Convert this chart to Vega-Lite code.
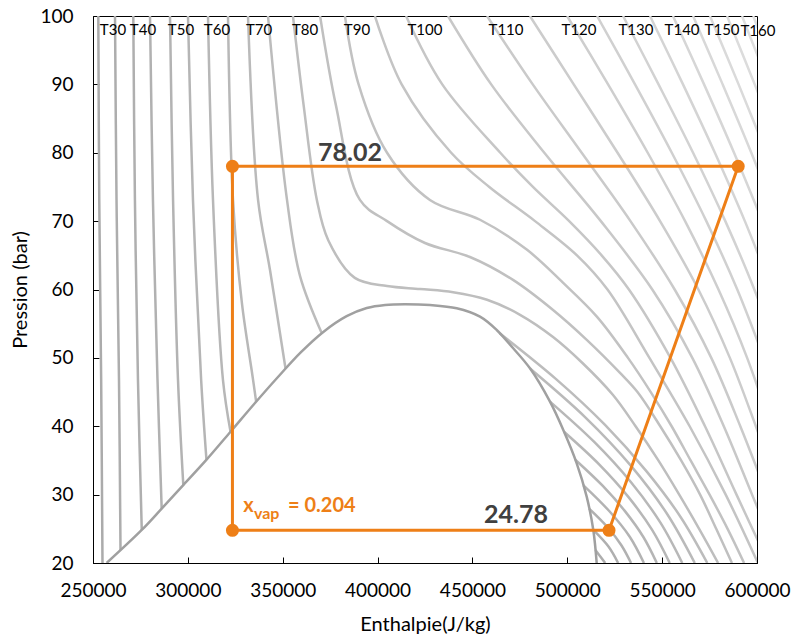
{
"$schema": "https://vega.github.io/schema/vega-lite/v6.json",
"width": 664, "height": 547,
"autosize": {"type": "none"},
"padding": {"left": 93, "top": 16, "right": 36, "bottom": 74},
"config": {
  "view": {"stroke": "#000", "strokeWidth": 1},
  "font": "Lato",
  "axis": {"grid": false, "domainColor": "#000", "tickColor": "#000", "labelColor": "#000", "titleColor": "#000", "labelFont": "Lato", "titleFont": "Lato", "labelFontSize": 19, "titleFontSize": 20, "titleFontWeight": "normal"}
},
"datasets": {
  "iso": [
    {"T":30,"s":"30L","h":252800,"P":100},{"T":30,"s":"30L","h":253300,"P":73.1},{"T":30,"s":"30L","h":254300,"P":46.8},{"T":30,"s":"30L","h":255000,"P":20},
    {"T":35,"s":"35L","h":261600,"P":100},{"T":35,"s":"35L","h":262400,"P":73.1},{"T":35,"s":"35L","h":263700,"P":46.8},{"T":35,"s":"35L","h":264500,"P":21.9},
    {"T":40,"s":"40L","h":271240,"P":100},{"T":40,"s":"40L","h":272100,"P":73.1},{"T":40,"s":"40L","h":273700,"P":46.8},{"T":40,"s":"40L","h":275700,"P":24.83},
    {"T":45,"s":"45L","h":280050,"P":100},{"T":45,"s":"45L","h":281600,"P":73.1},{"T":45,"s":"45L","h":284000,"P":46.8},{"T":45,"s":"45L","h":286200,"P":27.95},
    {"T":50,"s":"50L","h":290590,"P":100},{"T":50,"s":"50L","h":292200,"P":73.1},{"T":50,"s":"50L","h":294800,"P":46.8},{"T":50,"s":"50L","h":297600,"P":31.4},
    {"T":55,"s":"55L","h":300070,"P":100},{"T":55,"s":"55L","h":302700,"P":73.1},{"T":55,"s":"55L","h":307000,"P":46.8},{"T":55,"s":"55L","h":309800,"P":35.1},
    {"T":60,"s":"60L","h":310620,"P":100},{"T":60,"s":"60L","h":313250,"P":73.1},{"T":60,"s":"60L","h":318500,"P":46.8},{"T":60,"s":"60L","h":322500,"P":39.2},
    {"T":65,"s":"65L","h":321160,"P":100},{"T":65,"s":"65L","h":323800,"P":73.1},{"T":65,"s":"65L","h":328500,"P":58},{"T":65,"s":"65L","h":334000,"P":47.5},{"T":65,"s":"65L","h":336000,"P":43.6},
    {"T":70,"s":"70L","h":331700,"P":100},{"T":70,"s":"70L","h":337000,"P":73.1},{"T":70,"s":"70L","h":343300,"P":62.85},{"T":70,"s":"70L","h":351500,"P":48.4},
    {"T":75,"s":"75L","h":342240,"P":100},{"T":75,"s":"75L","h":352260,"P":73.1},{"T":75,"s":"75L","h":359110,"P":62},{"T":75,"s":"75L","h":370600,"P":53.6},
    {"T":35,"s":"35V","h":514800,"P":21.9},{"T":35,"s":"35V","h":520000,"P":20},
    {"T":40,"s":"40V","h":513710,"P":24.83},{"T":40,"s":"40V","h":521700,"P":22.4},{"T":40,"s":"40V","h":526800,"P":20},
    {"T":45,"s":"45V","h":511470,"P":27.96},{"T":45,"s":"45V","h":521000,"P":25.3},{"T":45,"s":"45V","h":528500,"P":22.6},{"T":45,"s":"45V","h":533600,"P":20},
    {"T":50,"s":"50V","h":508400,"P":31.4},{"T":50,"s":"50V","h":522100,"P":27.6},{"T":50,"s":"50V","h":533000,"P":23.8},{"T":50,"s":"50V","h":540400,"P":20},
    {"T":55,"s":"55V","h":504200,"P":35.1},{"T":55,"s":"55V","h":518600,"P":31.3},{"T":55,"s":"55V","h":530500,"P":27.55},{"T":55,"s":"55V","h":540100,"P":23.8},{"T":55,"s":"55V","h":547200,"P":20},
    {"T":60,"s":"60V","h":498260,"P":39.2},{"T":60,"s":"60V","h":516900,"P":34.4},{"T":60,"s":"60V","h":532400,"P":29.6},{"T":60,"s":"60V","h":544800,"P":24.8},{"T":60,"s":"60V","h":554000,"P":20},
    {"T":65,"s":"65V","h":490870,"P":43.6},{"T":65,"s":"65V","h":514200,"P":37.7},{"T":65,"s":"65V","h":533600,"P":31.8},{"T":65,"s":"65V","h":549100,"P":25.9},{"T":65,"s":"65V","h":560600,"P":20},
    {"T":70,"s":"70V","h":480500,"P":48.4},{"T":70,"s":"70V","h":509500,"P":41.3},{"T":70,"s":"70V","h":533600,"P":34.2},{"T":70,"s":"70V","h":552800,"P":27.1},{"T":70,"s":"70V","h":567200,"P":20},
    {"T":75,"s":"75V","h":464350,"P":53.6},{"T":75,"s":"75V","h":494100,"P":46.9},{"T":75,"s":"75V","h":519900,"P":40.2},{"T":75,"s":"75V","h":541800,"P":33.4},{"T":75,"s":"75V","h":559800,"P":26.7},{"T":75,"s":"75V","h":573800,"P":20},
    {"T":80,"s":"80S","h":355400,"P":100},{"T":80,"s":"80S","h":361000,"P":87},{"T":80,"s":"80S","h":368000,"P":73.1},{"T":80,"s":"80S","h":374000,"P":67.2},{"T":80,"s":"80S","h":388000,"P":61.7},{"T":80,"s":"80S","h":405000,"P":60.5},{"T":80,"s":"80S","h":422400,"P":60.07},{"T":80,"s":"80S","h":439800,"P":59.6},{"T":80,"s":"80S","h":457700,"P":58.5},{"T":80,"s":"80S","h":475100,"P":56.3},{"T":80,"s":"80S","h":492500,"P":53.05},{"T":80,"s":"80S","h":508000,"P":49.25},{"T":80,"s":"80S","h":524000,"P":44.6},{"T":80,"s":"80S","h":536000,"P":40},{"T":80,"s":"80S","h":548000,"P":35},{"T":80,"s":"80S","h":559000,"P":30},{"T":80,"s":"80S","h":569500,"P":25},{"T":80,"s":"80S","h":579500,"P":20},
    {"T":85,"s":"85S","h":369700,"P":100},{"T":85,"s":"85S","h":378000,"P":87},{"T":85,"s":"85S","h":390700,"P":73.1},{"T":85,"s":"85S","h":405000,"P":70},{"T":85,"s":"85S","h":425000,"P":66.8},{"T":85,"s":"85S","h":448700,"P":64.75},{"T":85,"s":"85S","h":471400,"P":61.4},{"T":85,"s":"85S","h":492500,"P":57},{"T":85,"s":"85S","h":510400,"P":52.6},{"T":85,"s":"85S","h":527800,"P":47.8},{"T":85,"s":"85S","h":537000,"P":45},{"T":85,"s":"85S","h":549000,"P":40},{"T":85,"s":"85S","h":560000,"P":35},{"T":85,"s":"85S","h":570000,"P":30},{"T":85,"s":"85S","h":578500,"P":25},{"T":85,"s":"85S","h":586800,"P":20},
    {"T":90,"s":"90S","h":382800,"P":100},{"T":90,"s":"90S","h":390000,"P":90},{"T":90,"s":"90S","h":405000,"P":80},{"T":90,"s":"90S","h":427600,"P":73.1},{"T":90,"s":"90S","h":454000,"P":70.2},{"T":90,"s":"90S","h":478800,"P":65.8},{"T":90,"s":"90S","h":497700,"P":61},{"T":90,"s":"90S","h":515700,"P":56},{"T":90,"s":"90S","h":532000,"P":50},{"T":90,"s":"90S","h":544000,"P":45},{"T":90,"s":"90S","h":555000,"P":40},{"T":90,"s":"90S","h":565000,"P":35},{"T":90,"s":"90S","h":575000,"P":30},{"T":90,"s":"90S","h":584500,"P":25},{"T":90,"s":"90S","h":593200,"P":20},
    {"T":95,"s":"95S","h":398600,"P":100},{"T":95,"s":"95S","h":412700,"P":90},{"T":95,"s":"95S","h":438800,"P":80},{"T":95,"s":"95S","h":458900,"P":75},{"T":95,"s":"95S","h":483000,"P":70},{"T":95,"s":"95S","h":505100,"P":65},{"T":95,"s":"95S","h":521200,"P":60},{"T":95,"s":"95S","h":543300,"P":50},{"T":95,"s":"95S","h":564500,"P":40},{"T":95,"s":"95S","h":583500,"P":30},{"T":95,"s":"95S","h":600500,"P":20},
    {"T":100,"s":"100S","h":415000,"P":100},{"T":100,"s":"100S","h":434100,"P":90},{"T":100,"s":"100S","h":464700,"P":80},{"T":100,"s":"100S","h":481900,"P":75},{"T":100,"s":"100S","h":501000,"P":70},{"T":100,"s":"100S","h":518100,"P":65},{"T":100,"s":"100S","h":532500,"P":60},{"T":100,"s":"100S","h":554400,"P":50},{"T":100,"s":"100S","h":572600,"P":40},{"T":100,"s":"100S","h":589200,"P":30},{"T":100,"s":"100S","h":606000,"P":20},
    {"T":105,"s":"105S","h":437100,"P":100},{"T":105,"s":"105S","h":459900,"P":90},{"T":105,"s":"105S","h":487900,"P":80},{"T":105,"s":"105S","h":517700,"P":70},{"T":105,"s":"105S","h":544800,"P":60},{"T":105,"s":"105S","h":565900,"P":50},{"T":105,"s":"105S","h":582500,"P":40},{"T":105,"s":"105S","h":597400,"P":30},{"T":105,"s":"105S","h":612300,"P":20},
    {"T":110,"s":"110S","h":457700,"P":100},{"T":110,"s":"110S","h":481800,"P":90},{"T":110,"s":"110S","h":507600,"P":80},{"T":110,"s":"110S","h":533300,"P":70},{"T":110,"s":"110S","h":556600,"P":60},{"T":110,"s":"110S","h":575900,"P":50},{"T":110,"s":"110S","h":591200,"P":40},{"T":110,"s":"110S","h":605200,"P":30},
    {"T":115,"s":"115S","h":480300,"P":100},{"T":115,"s":"115S","h":503400,"P":90},{"T":115,"s":"115S","h":526500,"P":80},{"T":115,"s":"115S","h":548900,"P":70},{"T":115,"s":"115S","h":569100,"P":60},{"T":115,"s":"115S","h":585700,"P":50},{"T":115,"s":"115S","h":599400,"P":40},{"T":115,"s":"115S","h":612400,"P":30},
    {"T":120,"s":"120S","h":499900,"P":100},{"T":120,"s":"120S","h":521500,"P":90},{"T":120,"s":"120S","h":542400,"P":80},{"T":120,"s":"120S","h":562100,"P":70},{"T":120,"s":"120S","h":579700,"P":60},{"T":120,"s":"120S","h":594800,"P":50},{"T":120,"s":"120S","h":607200,"P":40},
    {"T":125,"s":"125S","h":515700,"P":100},{"T":125,"s":"125S","h":535700,"P":90},{"T":125,"s":"125S","h":555100,"P":80},{"T":125,"s":"125S","h":573300,"P":70},{"T":125,"s":"125S","h":589600,"P":60},{"T":125,"s":"125S","h":603600,"P":50},
    {"T":130,"s":"130S","h":529400,"P":100},{"T":130,"s":"130S","h":548100,"P":90},{"T":130,"s":"130S","h":566300,"P":80},{"T":130,"s":"130S","h":583300,"P":70},{"T":130,"s":"130S","h":598600,"P":60},{"T":130,"s":"130S","h":611700,"P":50},
    {"T":135,"s":"135S","h":543600,"P":100},{"T":135,"s":"135S","h":561000,"P":90},{"T":135,"s":"135S","h":577800,"P":80},{"T":135,"s":"135S","h":593600,"P":70},{"T":135,"s":"135S","h":607800,"P":60},
    {"T":140,"s":"140S","h":555700,"P":100},{"T":140,"s":"140S","h":572100,"P":90},{"T":140,"s":"140S","h":587900,"P":80},{"T":140,"s":"140S","h":602800,"P":70},
    {"T":145,"s":"145S","h":566300,"P":100},{"T":145,"s":"145S","h":581900,"P":90},{"T":145,"s":"145S","h":597000,"P":80},{"T":145,"s":"145S","h":611100,"P":70},
    {"T":150,"s":"150S","h":575200,"P":100},{"T":150,"s":"150S","h":590300,"P":90},{"T":150,"s":"150S","h":604900,"P":80},
    {"T":155,"s":"155S","h":584200,"P":100},{"T":155,"s":"155S","h":598800,"P":90},{"T":155,"s":"155S","h":612900,"P":80},
    {"T":160,"s":"160S","h":592100,"P":100},{"T":160,"s":"160S","h":606300,"P":90},
    {"T":165,"s":"165S","h":598000,"P":100},{"T":165,"s":"165S","h":612000,"P":90}
  ],
  "dome": [
    {"h":257200,"P":20},{"h":275700,"P":24.83},{"h":286200,"P":27.95},{"h":297600,"P":31.4},{"h":309500,"P":35.0},{"h":322500,"P":39.2},{"h":335400,"P":43.4},{"h":347500,"P":47.2},{"h":359500,"P":50.8},{"h":371400,"P":53.8},{"h":383700,"P":56.1},{"h":394300,"P":57.3},{"h":404000,"P":57.75},{"h":414500,"P":57.85},{"h":427630,"P":57.73},{"h":441710,"P":57.25},{"h":453990,"P":56.02},{"h":462790,"P":54.08},{"h":471500,"P":51.4},{"h":480340,"P":48.47},{"h":490890,"P":43.59},{"h":497900,"P":39.45},{"h":504960,"P":34.58},{"h":510230,"P":29.7},{"h":513710,"P":24.83},{"h":515500,"P":20}
  ],
  "cycle": [
    {"o":0,"h":323500,"P":24.78},{"o":1,"h":323500,"P":78.02},{"o":2,"h":590100,"P":78.02},{"o":3,"h":522000,"P":24.78},{"o":4,"h":323500,"P":24.78}
  ],
  "tlabels": [
    {"t":"T30","h":260540,"P":98},{"t":"T40","h":276350,"P":98},{"t":"T50","h":296380,"P":98},{"t":"T60","h":315360,"P":98},{"t":"T70","h":337500,"P":98},{"t":"T80","h":361750,"P":98},{"t":"T90","h":389150,"P":98},{"t":"T100","h":425000,"P":98},{"t":"T110","h":467700,"P":98},{"t":"T120","h":506200,"P":98},{"t":"T130","h":536200,"P":98},{"t":"T140","h":560500,"P":98},{"t":"T150","h":581600,"P":98},{"t":"T160","h":600500,"P":97.8}
  ],
  "values": [
    {"t":"78.02","h":385500,"P":79.96},{"t":"24.78","h":473000,"P":27.02}
  ]
},
"encoding": {
  "x": {"field":"h","type":"quantitative","scale":{"domain":[250000,600000],"nice":false,"zero":false},
        "axis":{"title":"Enthalpie(J/kg)","values":[250000,300000,350000,400000,450000,500000,550000,600000],"format":"d","tickSize":-6,"labelPadding":24,"titlePadding":14,"labelFlush":false}},
  "y": {"field":"P","type":"quantitative","scale":{"domain":[20,100],"nice":false,"zero":false},
        "axis":{"title":"Pression (bar)","values":[20,30,40,50,60,70,80,90,100],"tickSize":-6,"labelPadding":26,"titlePadding":9,"labelFlush":false}}
},
"layer": [
  {"data":{"name":"iso"},"mark":{"type":"line","interpolate":"catmull-rom","strokeWidth":2.5,"clip":true},
   "encoding":{"detail":{"field":"s"},"order":{"field":"P","sort":"descending"},
     "color":{"field":"T","type":"quantitative","legend":null,"scale":{"domain":[30,165],"range":["#ABABAB","#E0E0E0"]}}}},
  {"data":{"name":"dome"},"mark":{"type":"line","interpolate":"catmull-rom","strokeWidth":2.5,"color":"#A0A0A0","clip":true},"encoding":{"order":{"field":"h"}}},
  {"data":{"name":"cycle"},"mark":{"type":"line","strokeWidth":3,"color":"#EE7F17"},"encoding":{"order":{"field":"o"}}},
  {"data":{"name":"cycle"},"transform":[{"filter":"datum.o < 4"}],"mark":{"type":"circle","size":170,"opacity":1,"color":"#EE7F17"}},
  {"data":{"name":"tlabels"},"mark":{"type":"text","font":"Lato","fontSize":15,"color":"#000","align":"center","baseline":"middle"},"encoding":{"text":{"field":"t"}}},
  {"data":{"name":"values"},"mark":{"type":"text","font":"Lato","fontSize":25,"fontWeight":"bold","color":"#404040","align":"center","baseline":"middle"},"encoding":{"text":{"field":"t"}}},
  {"data":{"values":[{"t":"x","h":329220,"P":27.46}]},"mark":{"type":"text","font":"Lato","fontSize":20,"fontWeight":"bold","color":"#EE7F17","align":"left","baseline":"alphabetic"},"encoding":{"text":{"field":"t"}}},
  {"data":{"values":[{"t":"vap","h":334860,"P":26.43}]},"mark":{"type":"text","font":"Lato","fontSize":16,"fontWeight":"bold","color":"#EE7F17","align":"left","baseline":"alphabetic"},"encoding":{"text":{"field":"t"}}},
  {"data":{"values":[{"t":"= 0.204","h":352780,"P":27.46}]},"mark":{"type":"text","font":"Lato","fontSize":20,"fontWeight":"bold","color":"#EE7F17","align":"left","baseline":"alphabetic"},"encoding":{"text":{"field":"t"}}}
]
}
